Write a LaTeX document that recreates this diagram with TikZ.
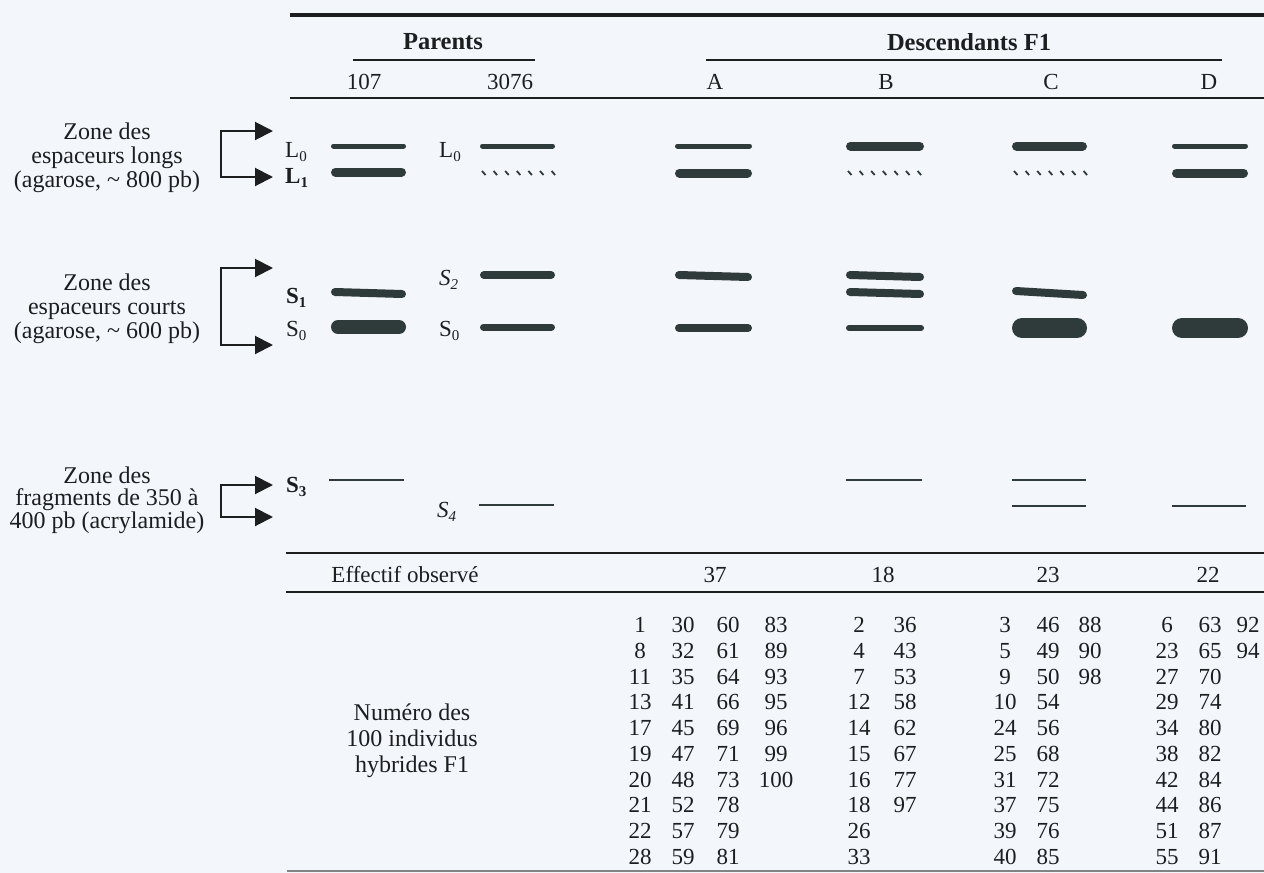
\documentclass[tikz,border=0pt]{standalone}
\usepackage{fontspec}
\setmainfont{Liberation Serif}
\usetikzlibrary{arrows.meta}
\definecolor{bg}{RGB}{243,246,251}
\definecolor{ink}{RGB}{28,30,32}
\definecolor{bandc}{RGB}{47,58,58}
\newcommand\lowidx[1]{\raisebox{-4.5pt}{\fontsize{15}{15}\selectfont #1}}
% band: x1, x2 (outer extent), y, thickness
\newcommand\bandline[4]{\draw[bandc, line width=#4pt, line cap=round] ({#1+#4/2},#3) -- ({#2-#4/2},#3);}
% tilted band: x1, x2, yleft, yright, thickness
\newcommand\bandtilt[5]{\draw[bandc, line width=#5pt, line cap=round] ({#1+#5/2},#3) -- ({#2-#5/2},#4);}
\newcommand\thinband[3]{\draw[bandc, line width=2.4pt] (#1,#3) -- (#2,#3);}
\newcommand\ticks[2]{\foreach \k in {0,...,6} \draw[bandc, line width=1.8pt] ({#1+2+\k*11.6},{#2-2}) -- ({#1+5.5+\k*11.6},{#2+2});}
\begin{document}
\begin{tikzpicture}[x=1pt,y=-1pt,
  every node/.style={text=ink, inner sep=0pt, font=\fontsize{23}{25}\selectfont},
  hdr/.style={font=\fontsize{24.5}{26}\selectfont\bfseries},
  num/.style={anchor=center},
  lbl/.style={anchor=base west},
  zone/.style={align=center, font=\fontsize{24}{24}\selectfont},
  rule/.style={draw=ink, line width=2.2pt},
  brk/.style={draw=ink, line width=2pt, {Triangle[length=18pt,width=18pt]}-{Triangle[length=18pt,width=18pt]}}
]
\useasboundingbox (0,0) rectangle (1264,873);
\fill[bg] (0,0) rectangle (1264,873);

% ---------- rules ----------
\draw[draw=ink, line width=4pt] (290,15) -- (1264,15);
\draw[rule, line width=2pt] (353,60) -- (535,60);
\draw[rule, line width=2pt] (706,60) -- (1222,60);
\draw[rule] (290,98) -- (1264,98);
\draw[rule] (286,553) -- (1264,553);
\draw[rule] (286,592) -- (1264,592);
\draw[draw=ink!55, line width=2pt] (287,871) -- (1264,871);

% ---------- headers ----------
\node[hdr] (parents) at (443,42) {Parents};
\node[hdr] (desc) at (969,42) {Descendants F1};
\node[num] (h107) at (364,82) {107};
\node[num] (h3076) at (510,82) {3076};
\node[num] (hA) at (715,82) {A};
\node[num] (hB) at (886,82) {B};
\node[num] (hC) at (1051,82) {C};
\node[num] (hD) at (1209,82) {D};

% ---------- zone labels ----------
\node[zone] (zone1) at (107,158) {Zone des\\espaceurs longs\\(agarose, \textasciitilde{} 800 pb)};
\node[zone] (zone2) at (107,309) {Zone des\\espaceurs courts\\(agarose, \textasciitilde{} 600 pb)};
\node[zone, font=\fontsize{24}{22.5}\selectfont] (zone3) at (107,500) {Zone des\\fragments de 350 à\\400 pb (acrylamide)};

% ---------- brackets with arrows ----------
\coordinate (z1t) at (273,131); \coordinate (z1a) at (221,131);
\coordinate (z1b) at (273,177); \coordinate (z1c) at (221,177);
\draw[brk] (z1t) -- (z1a) -- (z1c) -- (z1b);
\coordinate (z2t) at (273,268); \coordinate (z2a) at (221,268);
\coordinate (z2b) at (273,345); \coordinate (z2c) at (221,345);
\draw[brk] (z2t) -- (z2a) -- (z2c) -- (z2b);
\coordinate (z3t) at (273,485); \coordinate (z3a) at (221,485);
\coordinate (z3b) at (273,517); \coordinate (z3c) at (221,517);
\draw[brk] (z3t) -- (z3a) -- (z3c) -- (z3b);

% ---------- band labels ----------
\node[lbl] (lL0a) at (285,157) {L\lowidx{0}};
\node[lbl] (lL1) at (285,183) {\textbf{L}\lowidx{\textbf{1}}};
\node[lbl] (lL0b) at (439,157) {L\lowidx{0}};
\node[lbl] (lS1) at (286,303) {\textbf{S}\lowidx{\textbf{1}}};
\node[lbl] (lS0a) at (286,336) {S\lowidx{0}};
\node[lbl] (lS2) at (439,285) {\textit{S}\lowidx{\textit{2}}};
\node[lbl] (lS0b) at (439,336) {S\lowidx{0}};
\node[lbl] (lS3) at (286,492) {\textbf{S}\lowidx{\textbf{3}}};
\node[lbl] (lS4) at (437,517) {\textit{S}\lowidx{\textit{4}}};

% ---------- bands: parent 107 ----------
\bandline{331}{406}{146}{5}
\bandline{331}{406}{172}{9}
\bandtilt{331}{406}{292}{294}{8}
\bandline{331}{406}{327}{14}
\thinband{329}{404}{480}
% ---------- parent 3076 ----------
\bandline{480}{555}{146}{5}
\ticks{480}{173}
\bandline{480}{555}{275}{8}
\bandline{480}{555}{327}{7}
\thinband{479}{554}{505}
% ---------- A ----------
\bandline{675}{752}{146}{5}
\bandline{675}{752}{173}{9}
\bandtilt{675}{752}{275}{277}{8}
\bandline{675}{752}{328}{8}
% ---------- B ----------
\bandline{846}{924}{146}{9}
\ticks{846}{173}
\bandtilt{846}{924}{275}{277}{8}
\bandtilt{846}{924}{292}{294}{8}
\bandline{846}{924}{328}{6}
\thinband{846}{922}{480}
% ---------- C ----------
\bandline{1012}{1087}{146}{9}
\ticks{1012}{173}
\bandtilt{1012}{1087}{291}{295}{8}
\bandline{1012}{1087}{328}{20}
\thinband{1012}{1086}{480}
\thinband{1012}{1086}{506}
% ---------- D ----------
\bandline{1172}{1248}{146}{5}
\bandline{1172}{1248}{173}{9}
\bandline{1172}{1248}{328}{20}
\thinband{1172}{1246}{506}

% ---------- effectif ----------
\node (eff) at (405,575) {Effectif observé};
\node[num] (eA) at (715,575) {37};
\node[num] (eB) at (883,575) {18};
\node[num] (eC) at (1048,575) {23};
\node[num] (eD) at (1208,575) {22};

% ---------- numbers ----------
\node[zone, font=\fontsize{24}{26}\selectfont] (numero) at (412,741) {Numéro des\\100 individus\\hybrides F1};
\foreach \n [count=\i] in {1,8,11,13,17,19,20,21,22,28}
  \node[num] (a1-\i) at (640,{625+25.75*(\i-1)}) {\n};
\foreach \n [count=\i] in {30,32,35,41,45,47,48,52,57,59}
  \node[num] (a2-\i) at (683,{625+25.75*(\i-1)}) {\n};
\foreach \n [count=\i] in {60,61,64,66,69,71,73,78,79,81}
  \node[num] (a3-\i) at (728,{625+25.75*(\i-1)}) {\n};
\foreach \n [count=\i] in {83,89,93,95,96,99,100}
  \node[num] (a4-\i) at (776,{625+25.75*(\i-1)}) {\n};
\foreach \n [count=\i] in {2,4,7,12,14,15,16,18,26,33}
  \node[num] (b1-\i) at (859,{625+25.75*(\i-1)}) {\n};
\foreach \n [count=\i] in {36,43,53,58,62,67,77,97}
  \node[num] (b2-\i) at (905,{625+25.75*(\i-1)}) {\n};
\foreach \n [count=\i] in {3,5,9,10,24,25,31,37,39,40}
  \node[num] (c1-\i) at (1005,{625+25.75*(\i-1)}) {\n};
\foreach \n [count=\i] in {46,49,50,54,56,68,72,75,76,85}
  \node[num] (c2-\i) at (1048,{625+25.75*(\i-1)}) {\n};
\foreach \n [count=\i] in {88,90,98}
  \node[num] (c3-\i) at (1090,{625+25.75*(\i-1)}) {\n};
\foreach \n [count=\i] in {6,23,27,29,34,38,42,44,51,55}
  \node[num] (d1-\i) at (1167,{625+25.75*(\i-1)}) {\n};
\foreach \n [count=\i] in {63,65,70,74,80,82,84,86,87,91}
  \node[num] (d2-\i) at (1210,{625+25.75*(\i-1)}) {\n};
\foreach \n [count=\i] in {92,94}
  \node[num] (d3-\i) at (1248,{625+25.75*(\i-1)}) {\n};
\end{tikzpicture}
\end{document}
